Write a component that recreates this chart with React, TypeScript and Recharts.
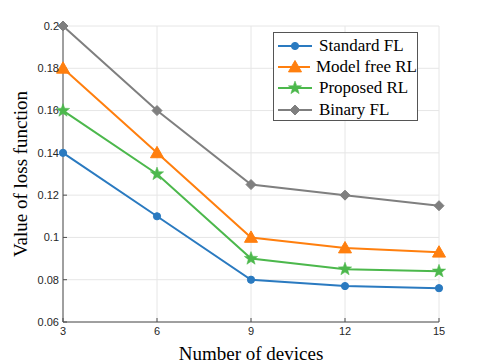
import React from 'react';
import {
  LineChart,
  Line,
  XAxis,
  YAxis,
  CartesianGrid,
  Legend,
  Label,
} from 'recharts';

const devices = [3, 6, 9, 12, 15];
const standardFL = [0.14, 0.11, 0.08, 0.077, 0.076];
const modelFreeRL = [0.18, 0.14, 0.1, 0.095, 0.093];
const proposedRL = [0.16, 0.13, 0.09, 0.085, 0.084];
const binaryFL = [0.2, 0.16, 0.125, 0.12, 0.115];
const yTicks = [0.06, 0.08, 0.1, 0.12, 0.14, 0.16, 0.18, 0.2];

const data = devices.map((n, i) => ({
  n,
  standard: standardFL[i],
  modelFree: modelFreeRL[i],
  proposed: proposedRL[i],
  binary: binaryFL[i],
}));

type MarkerKind = 'circle' | 'triangle' | 'star' | 'diamond';

const SERIES: { key: string; name: string; color: string; marker: MarkerKind }[] = [
  { key: 'standard', name: 'Standard FL', color: '#2a7ac0', marker: 'circle' },
  { key: 'modelFree', name: 'Model free RL', color: '#ff7f0e', marker: 'triangle' },
  { key: 'proposed', name: 'Proposed RL', color: '#4cb84c', marker: 'star' },
  { key: 'binary', name: 'Binary FL', color: '#7f7f7f', marker: 'diamond' },
];

const AXIS_COLOR = '#4d4d4d';
const TICK_FONT = '"Liberation Sans", Arial, sans-serif';
const LABEL_FONT = '"Liberation Serif", "Times New Roman", serif';

// draw one marker shape centred on (cx, cy)
const markerShape = (kind: MarkerKind, cx: number, cy: number, color: string, key?: string) => {
  if (kind === 'circle') {
    return <circle key={key} cx={cx} cy={cy} r={3.6} fill={color} stroke={color} />;
  }
  if (kind === 'triangle') {
    const s = 6.5;
    const pts = `${cx},${cy - s} ${cx - s},${cy + s * 0.75} ${cx + s},${cy + s * 0.75}`;
    return <polygon key={key} points={pts} fill={color} stroke={color} />;
  }
  if (kind === 'diamond') {
    const s = 5;
    const pts = `${cx},${cy - s} ${cx + s},${cy} ${cx},${cy + s} ${cx - s},${cy}`;
    return <polygon key={key} points={pts} fill={color} stroke={color} />;
  }
  const outer = 7;
  const inner = 2.9;
  const pts: string[] = [];
  for (let k = 0; k < 10; k++) {
    const r = k % 2 === 0 ? outer : inner;
    const a = -Math.PI / 2 + (k * Math.PI) / 5;
    pts.push(`${cx + r * Math.cos(a)},${cy + r * Math.sin(a)}`);
  }
  return <polygon key={key} points={pts.join(' ')} fill={color} stroke={color} strokeWidth={0.5} />;
};

const renderLegend = () => (
  <div
    style={{
      border: '1px solid #555',
      background: '#fff',
      padding: '2px 0',
      boxSizing: 'border-box',
      width: 145,
      height: 89,
    }}
  >
    {SERIES.map((s) => (
      <div
        key={s.key}
        style={{
          display: 'flex',
          alignItems: 'center',
          height: 21.3,
          fontFamily: LABEL_FONT,
          fontSize: 17,
          color: '#000',
        }}
      >
        <svg width={36} height={20} style={{ marginLeft: 3, marginRight: 6 }}>
          <line x1={1} y1={10} x2={35} y2={10} stroke={s.color} strokeWidth={2} />
          {markerShape(s.marker, 18, 10, s.color)}
        </svg>
        <span style={{ whiteSpace: 'nowrap' }}>{s.name}</span>
      </div>
    ))}
  </div>
);

const App: React.FC = () => {
  return (
    <div style={{ position: 'absolute', left: 0, top: 0, background: '#fff' }}>
      <LineChart width={485} height={364} data={data} margin={{ top: 26, right: 46, left: 0, bottom: 0 }}>
        <CartesianGrid stroke="#e6e6e6" strokeWidth={1} />
        <XAxis
          dataKey="n"
          type="number"
          domain={[3, 15]}
          ticks={devices}
          height={42}
          stroke={AXIS_COLOR}
          tickSize={-4}
          tickMargin={9}
          tick={{ fill: '#262626', fontSize: 11, fontFamily: TICK_FONT }}
        >
          <Label
            value="Number of devices"
            position="insideBottom"
            offset={4}
            style={{ fill: '#000', fontSize: 19, fontFamily: LABEL_FONT }}
          />
        </XAxis>
        <XAxis
          xAxisId="top"
          dataKey="n"
          type="number"
          orientation="top"
          domain={[3, 15]}
          ticks={devices}
          height={0}
          stroke={AXIS_COLOR}
          tickSize={-4}
          tickFormatter={() => ''}
        />
        <YAxis
          type="number"
          domain={[0.06, 0.2]}
          ticks={yTicks}
          width={63}
          stroke={AXIS_COLOR}
          tickSize={-4}
          tickMargin={8}
          tick={{ fill: '#262626', fontSize: 11, fontFamily: TICK_FONT }}
        >
          <Label
            value="Value of loss function"
            angle={-90}
            position="insideLeft"
            offset={20}
            style={{ textAnchor: 'middle', fill: '#000', fontSize: 19, fontFamily: LABEL_FONT }}
          />
        </YAxis>
        <YAxis
          yAxisId="right"
          orientation="right"
          type="number"
          domain={[0.06, 0.2]}
          ticks={yTicks}
          width={0}
          stroke={AXIS_COLOR}
          tickSize={-4}
          tickFormatter={() => ''}
        />
        <Legend
          layout="vertical"
          align="center"
          verticalAlign="middle"
          content={renderLegend}
          wrapperStyle={{ position: 'absolute', left: 273, top: 32, width: 145, height: 89 }}
        />
        {SERIES.map((s) => (
          <Line
            key={s.key}
            dataKey={s.key}
            name={s.name}
            stroke={s.color}
            strokeWidth={2}
            isAnimationActive={false}
            dot={(p: any) => markerShape(s.marker, p.cx, p.cy, s.color, `${s.key}-${p.index}`)}
            activeDot={false}
          />
        ))}
      </LineChart>
    </div>
  );
};

export default App;
